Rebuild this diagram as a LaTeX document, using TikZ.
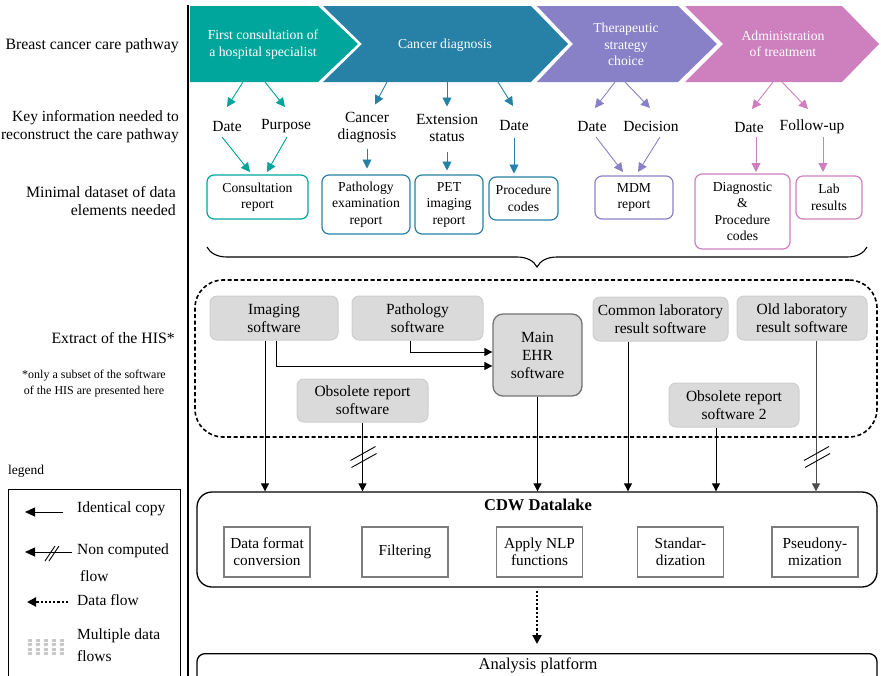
\documentclass[tikz,border=0pt]{standalone}
\usepackage{fontspec}
\setmainfont{Liberation Serif}
\usetikzlibrary{arrows.meta,calc,decorations.pathreplacing}
\definecolor{tealc}{RGB}{0,166,156}
\definecolor{bluec}{RGB}{39,128,166}
\definecolor{purpc}{RGB}{137,129,199}
\definecolor{pinkc}{RGB}{206,127,190}
\definecolor{grayfill}{RGB}{218,218,218}
\definecolor{grayline}{RGB}{206,206,206}
\definecolor{ehrline}{RGB}{115,115,115}
\definecolor{iboxline}{RGB}{125,125,125}
\begin{document}
\begin{tikzpicture}[x=1pt,y=-1pt,
  rowlab/.style={font=\fontsize{15.8}{18}\selectfont, align=right, anchor=east, inner sep=0pt},
  kinfo/.style={font=\fontsize{15.5}{17}\selectfont, align=center, inner sep=0pt},
  chevtxt/.style={font=\fontsize{13.7}{16.5}\selectfont, align=center, text=white, inner sep=0pt},
  cbox/.style={draw=#1, line width=1.2pt, rounded corners=7pt, align=center, inner sep=0pt, font=\fontsize{13.7}{16.5}\selectfont},
  gbox/.style={fill=grayfill, draw=grayline, line width=1pt, rounded corners=7pt, align=center, inner sep=0pt, font=\fontsize{15.5}{18}\selectfont},
  ibox/.style={draw=iboxline, line width=1.3pt, fill=white, align=center, inner sep=0pt, minimum width=86pt, minimum height=50pt, font=\fontsize{15.3}{17}\selectfont},
  leglab/.style={anchor=west, inner sep=0pt, font=\fontsize{15.5}{18}\selectfont},
  carr/.style={draw=#1, line width=0.9pt, -{Triangle[length=9pt,width=9pt]}},
  blk/.style={draw=black, line width=0.9pt, -{Triangle[length=8pt,width=8pt]}},
  lblk/.style={draw=black, line width=0.9pt, -{Triangle[length=10pt,width=9pt]}},
  slash/.style={draw=black, line width=0.9pt},
  dotarr/.style={draw=black, line width=2.2pt, dotted, -{Triangle[length=9pt,width=9pt]}}
]
\useasboundingbox (0,0) rectangle (881,675);

% main vertical rule
\draw[line width=2.8pt] (188,5) -- (188,676);

% chevrons
\fill[tealc] (190,6) -- (318,6) -- (358,44) -- (318,82) -- (190,82) -- cycle;
\fill[bluec] (323,6) -- (531,6) -- (568,44) -- (531,82) -- (323,82) -- (362,44) -- cycle;
\fill[purpc] (537,6) -- (678,6) -- (717,44) -- (678,82) -- (537,82) -- (573,44) -- cycle;
\fill[pinkc] (685,6) -- (842,6) -- (879,44) -- (842,82) -- (685,82) -- (723,44) -- cycle;

\node[chevtxt] (ch1) at (263,44.5) {First consultation of\\a hospital specialist};
\node[chevtxt] (ch2) at (445,45) {Cancer diagnosis};
\node[chevtxt] (ch3) at (626,44.5) {Therapeutic\\strategy\\choice};
\node[chevtxt] (ch4) at (783,44) {Administration\\of treatment};

% row labels
\node[rowlab] (r1) at (179,46) {Breast cancer care pathway};
\node[rowlab, font=\fontsize{15.5}{18}\selectfont] (r2) at (179,127) {Key information needed to\\reconstruct the care pathway};
\node[rowlab] (r3) at (176,201) {Minimal dataset of data\\elements needed};
\node[rowlab] (r4) at (175,338) {Extract of the HIS*};
\node[font=\fontsize{12}{16}\selectfont, align=center, inner sep=0pt] (fn) at (94,384) {*only a subset of the software\\of the HIS are presented here};

% key information
\node[kinfo] (d1) at (227,126) {Date};
\node[kinfo] (p1) at (286,126) {Purpose};
\node[kinfo] (cd) at (367,127.5) {Cancer\\diagnosis};
\node[kinfo] (es) at (447,127.5) {Extension\\status};
\node[kinfo] (d2) at (514,125) {Date};
\node[kinfo] (d3) at (592,126) {Date};
\node[kinfo] (dec) at (651,126) {Decision};
\node[kinfo] (d4) at (749,127) {Date};
\node[kinfo] (fu) at (812,127) {Follow-up};

% minimal dataset boxes
\node[cbox=tealc, minimum width=101pt, minimum height=44pt] (cr) at (257.5,197) {Consultation\\report};
\node[cbox=bluec, minimum width=88pt, minimum height=59pt] (pe) at (366,204.5) {Pathology\\examination\\report};
\node[cbox=bluec, minimum width=68pt, minimum height=59pt] (pet) at (449,204.5) {PET\\imaging\\report};
\node[cbox=bluec, minimum width=69pt, minimum height=43pt] (pc) at (523.5,198.5) {Procedure\\codes};
\node[cbox=purpc, minimum width=78pt, minimum height=43pt] (mdm) at (634,197.5) {MDM\\report};
\node[cbox=pinkc, minimum width=95pt, minimum height=75pt] (dpc) at (742.5,211.5) {Diagnostic\\\&\\Procedure\\codes};
\node[cbox=pinkc, minimum width=66pt, minimum height=43pt] (lab) at (829,197.5) {Lab\\results};

% colored arrows
\draw[carr=tealc] ($(ch1)+(-20,37.5)$) -- ($(d1)+(0,-19)$);
\draw[carr=tealc] ($(ch1)+(2,37.5)$) -- ($(p1)+(-1,-19)$);
\draw[carr=tealc] ($(d1)+(-5,11)$) -- ($(cr)+(-7.5,-25)$);
\draw[carr=tealc] ($(p1)+(1,11)$) -- ($(cr)+(9.5,-25)$);
\draw[carr=bluec] ($(ch2)+(-58,37)$) -- ($(cd)+(8,-23)$);
\draw[carr=bluec] ($(cd)+(0,21)$) -- ($(pe)+(1,-36)$);
\draw[carr=bluec] ($(ch2)+(2,37)$) -- ($(es)+(0,-21)$);
\draw[carr=bluec] ($(es)+(0,24)$) -- ($(pet)+(-2,-34)$);
\draw[carr=bluec] ($(ch2)+(53,37)$) -- ($(d2)+(-1,-19)$);
\draw[carr=bluec] ($(d2)+(0,13)$) -- ($(pc)+(-9.5,-25)$);
\draw[carr=purpc] ($(ch3)+(-11,37.5)$) -- ($(d3)+(3,-18)$);
\draw[carr=purpc] ($(ch3)+(-1,37.5)$) -- ($(dec)+(-1,-18)$);
\draw[carr=purpc] ($(d3)+(4,11)$) -- ($(mdm)+(-11,-25.5)$);
\draw[carr=purpc] ($(dec)+(9,11)$) -- ($(mdm)+(4,-25.5)$);
\draw[carr=pinkc] ($(ch4)+(-10,38)$) -- ($(d4)+(3,-18)$);
\draw[carr=pinkc] ($(ch4)+(-1,38)$) -- ($(fu)+(-4,-18)$);
\draw[carr=pinkc] ($(d4)+(7,10)$) -- ($(dpc)+(13.5,-39.5)$);
\draw[carr=pinkc] ($(fu)+(11,10)$) -- ($(lab)+(-6,-25.5)$);

% brace
\draw[line width=1.1pt, decorate, decoration={brace, amplitude=20pt}] (867,247) -- (207,247);

% HIS extract
\node[draw, dash pattern=on 4pt off 2.5pt, line width=1.6pt, rounded corners=28pt, minimum width=682pt, minimum height=157pt] (his) at (536,358.5) {};
\node[gbox, minimum width=128pt, minimum height=44pt] (img) at (274,318) {Imaging\\software};
\node[gbox, minimum width=131pt, minimum height=44pt] (path) at (417.5,318) {Pathology\\software};
\node[gbox, draw=ehrline, line width=1.3pt, rounded corners=10pt, minimum width=89pt, minimum height=82pt] (ehr) at (537.5,355) {Main\\EHR\\software};
\node[gbox, minimum width=131pt, minimum height=43pt] (obs) at (362.5,400.5) {Obsolete report\\software};
\node[gbox, minimum width=135pt, minimum height=44pt] (cl) at (660.5,319) {Common laboratory\\result software};
\node[gbox, minimum width=130pt, minimum height=44pt] (ol) at (802,318) {Old laboratory\\result software};
\node[gbox, minimum width=130pt, minimum height=44pt] (obs2) at (734,405) {Obsolete report\\software 2};

% CDW datalake
\node[draw, line width=1.3pt, rounded corners=15pt, minimum width=680pt, minimum height=95pt] (cdw) at (537,539.5) {};
\node[font=\bfseries\fontsize{16.5}{18}\selectfont, inner sep=0pt] (cdwt) at (538,505) {CDW Datalake};
\node[ibox] (b1) at (267,552) {Data format\\conversion};
\node[ibox] (b2) at (405,552) {Filtering};
\node[ibox] (b3) at (539.5,552) {Apply NLP\\functions};
\node[ibox] (b4) at (680.5,552) {Standar-\\dization};
\node[ibox] (b5) at (815,552) {Pseudony-\\mization};

% analysis platform
\node[draw, line width=1.3pt, rounded corners=8pt, minimum width=680pt, minimum height=40pt, anchor=north] (ap) at (537,653) {};
\node[font=\fontsize{16.5}{18}\selectfont, inner sep=0pt] (apt) at (538,665) {Analysis platform};

% HIS connectors
\draw[blk] ([xshift=2pt]img.south) |- ([yshift=-11pt]ehr.west);
\draw[blk] ([xshift=-7.5pt]path.south) |- ([yshift=3pt]ehr.west);
\draw[blk] ([xshift=-9pt]img.south) -- ([xshift=-9pt]img.south |- cdw.north);
\draw[blk] (obs.south) -- (obs.south |- cdw.north);
\draw[blk] (ehr.south) -- (ehr.south |- cdw.north);
\draw[blk] ([xshift=-32.5pt]cl.south) -- ([xshift=-32.5pt]cl.south |- cdw.north);
\draw[blk] ([xshift=-18pt]obs2.south) -- ([xshift=-18pt]obs2.south |- cdw.north);
\draw[blk, draw=black!70] ([xshift=14pt]ol.south) -- ([xshift=14pt]ol.south |- cdw.north);
\coordinate (s1) at ($(obs.south)+(0,35)$);
\coordinate (s2) at ($(ol.south)+(14,117)$);
\draw[slash] ($(s1)+(-12,3)$) -- ++(25,-14) ($(s1)+(-11,10)$) -- ++(25,-14);
\draw[slash] ($(s2)+(-12,3)$) -- ++(25,-14) ($(s2)+(-11,10)$) -- ++(25,-14);

% datalake -> analysis platform
\draw[dotarr, shorten <=3pt, shorten >=9pt] (cdw.south) -- (ap.north);

% legend
\node[anchor=west, font=\fontsize{13.5}{16}\selectfont, inner sep=0pt] (legt) at (8,471) {legend};
\node[draw, line width=0.8pt, minimum width=172pt, minimum height=200pt, anchor=north west, inner sep=0pt] (legbox) at (8,489) {};
\node[leglab] (l1) at (77,509) {Identical copy};
\draw[lblk] ($(l1.west)+(-14,3)$) -- ($(l1.west)+(-52,3)$);
\node[leglab] (l2) at (77,551) {Non computed};
\node[leglab] (l2b) at (80,576) {flow};
\draw[lblk] ($(l2.west)+(-5,1)$) -- ($(l2.west)+(-52,1)$);
\draw[slash] ($(l2.west)+(-32,10)$) -- ++(10,-15) ($(l2.west)+(-28,10)$) -- ++(10,-15);
\node[leglab] (l3) at (77,600) {Data flow};
\draw[dotarr, line width=2pt] ($(l3.west)+(-9,2)$) -- ($(l3.west)+(-50,2)$);
\node[leglab] (l4) at (77,636) {Multiple data};
\node[leglab] (l4b) at (77,656) {flows};
\foreach \i in {0,...,4} \foreach \j in {0,...,3}
  \fill[black!22] ($(l4.west)+(-49+\i*8,3+\j*4.4)$) rectangle ++(4,2.8);
\end{tikzpicture}
\end{document}
